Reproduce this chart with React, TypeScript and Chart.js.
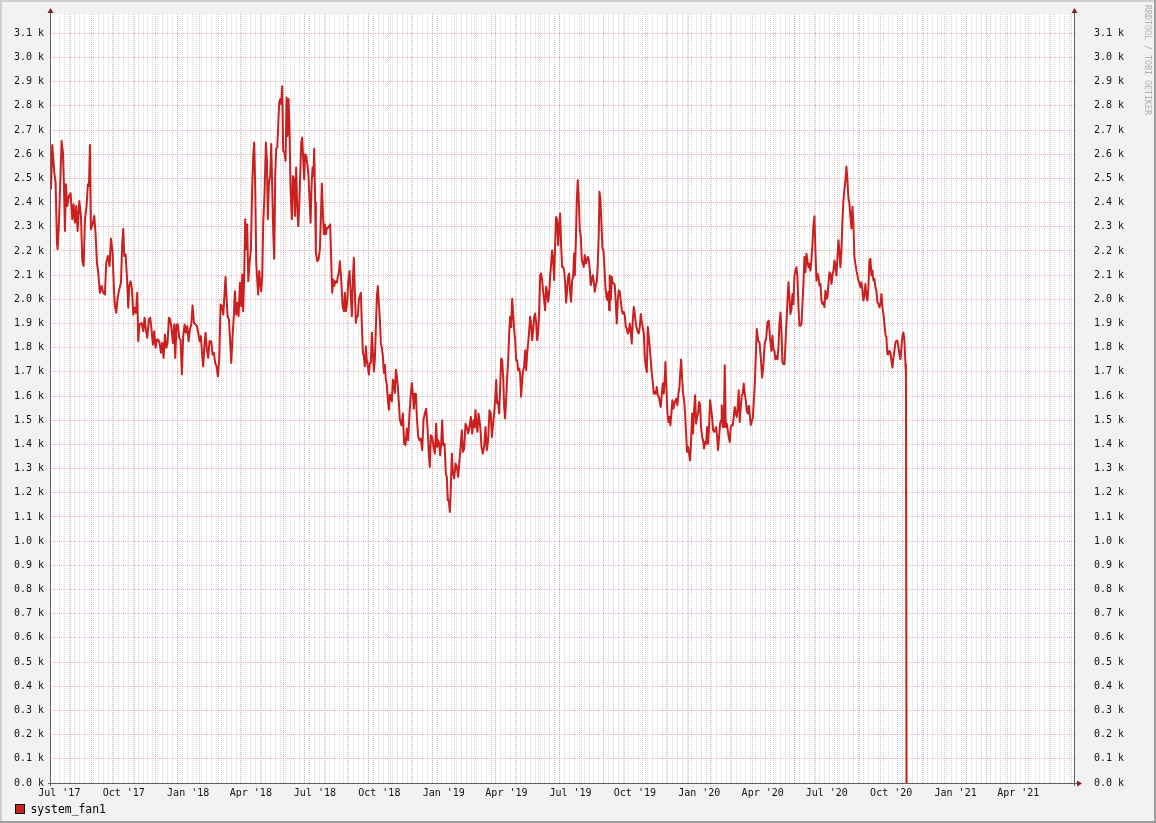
import React, { useEffect, useRef } from 'react';
import { Chart, registerables } from 'chart.js';

Chart.register(...registerables);

const SERIES_NAME = 'system_fan1';
const WATERMARK = 'RRDTOOL / TOBI OETIKER';

// Readings as [days since 2017-07-01 (UTC), value]
const readingsJul17toMar18: [number, number][] = [
  [3.6, 2455], [5.4, 2638], [8.3, 2524], [10.2, 2483], [12.1, 2234], [13.0, 2207], [14.9, 2317], [17.8, 2566], [18.7, 2655], [20.7, 2607],
  [22.1, 2469], [23.5, 2283], [24.9, 2476], [26.8, 2386], [29.2, 2428], [31.6, 2439], [34.0, 2331], [35.9, 2393], [37.8, 2317], [39.7, 2386],
  [41.6, 2283], [44.0, 2407], [46.4, 2345], [48.3, 2158], [50.2, 2138], [52.1, 2331], [54.4, 2386], [56.3, 2476], [57.8, 2469], [59.2, 2638],
  [60.6, 2290], [63.0, 2310], [65.4, 2345], [67.3, 2269], [69.2, 2151], [71.1, 2110], [73.5, 2027], [75.9, 2055], [78.2, 2027], [80.6, 2020],
  [82.5, 2151], [84.9, 2179], [87.3, 2138], [89.2, 2251], [91.6, 2193], [93.5, 2041], [94.9, 1972], [96.8, 1944], [98.7, 2006], [101.1, 2041],
  [103.5, 2069], [105.4, 2234], [106.8, 2292], [108.2, 2179], [110.1, 2186], [112.0, 2096], [113.9, 1965], [115.4, 2055], [117.3, 2075], [119.2, 2041],
  [121.1, 1937], [123.0, 1965], [124.9, 1944], [126.8, 2027], [128.2, 1827], [130.1, 1896], [133.0, 1903], [135.4, 1868], [137.2, 1924], [139.1, 1875],
  [141.1, 1841], [143.4, 1917], [145.3, 1924], [147.2, 1875], [149.1, 1813], [151.0, 1868], [152.9, 1800], [154.9, 1834], [156.7, 1834], [158.7, 1820],
  [160.6, 1779], [162.5, 1820], [164.4, 1758], [166.3, 1855], [168.2, 1800], [170.1, 1820], [172.0, 1924], [173.9, 1917], [175.8, 1875], [177.7, 1820],
  [179.6, 1896], [181.0, 1758], [182.9, 1896], [184.8, 1896], [186.7, 1841], [188.6, 1834], [190.5, 1689], [192.4, 1848], [194.4, 1896], [196.3, 1862],
  [198.2, 1889], [200.1, 1827], [202.0, 1875], [203.9, 1896], [205.8, 1975], [207.7, 1903], [210.1, 1896], [212.0, 1889], [213.9, 1862], [215.8, 1827],
  [217.7, 1848], [219.6, 1765], [221.0, 1723], [222.9, 1820], [224.3, 1862], [226.2, 1793], [228.1, 1758], [230.0, 1827], [232.4, 1827], [234.3, 1772],
  [236.2, 1779], [238.1, 1737], [240.0, 1723], [242.0, 1682], [243.9, 1758], [245.8, 1979], [247.7, 1972], [249.6, 1937], [251.5, 2027], [252.9, 2092],
];

const readingsMar18toNov18: [number, number][] = [
  [253.9, 2027], [255.8, 1930], [257.7, 1917], [259.6, 1820], [261.0, 1737], [262.9, 1848], [264.8, 1937], [266.2, 2034], [268.1, 1937], [270.0, 1986],
  [271.5, 1930], [273.4, 2069], [275.3, 1972], [276.7, 2103], [278.1, 1951], [279.6, 2110], [281.0, 2331], [282.4, 2207], [283.8, 2310], [285.3, 2075],
  [287.2, 2151], [289.1, 2207], [291.0, 2469], [292.4, 2593], [293.8, 2649], [295.3, 2455], [296.7, 2151], [298.1, 2082], [299.5, 2020], [301.0, 2117],
  [302.4, 2069], [303.8, 2034], [305.3, 2096], [306.7, 2317], [308.6, 2441], [310.5, 2649], [311.9, 2580], [313.3, 2331], [314.8, 2483], [316.7, 2510],
  [318.1, 2642], [319.5, 2469], [321.0, 2276], [322.4, 2168], [323.8, 2510], [325.2, 2624], [326.7, 2628], [328.1, 2718], [329.5, 2814], [331.0, 2828],
  [332.4, 2807], [333.8, 2881], [335.2, 2614], [337.1, 2607], [338.6, 2573], [340.0, 2835], [341.4, 2676], [342.9, 2828], [344.3, 2690], [345.7, 2455],
  [347.6, 2331], [349.0, 2510], [350.5, 2497], [351.9, 2345], [353.8, 2545], [355.2, 2386], [356.7, 2303], [358.1, 2386], [359.5, 2510], [361.0, 2649],
  [362.4, 2669], [363.8, 2580], [365.2, 2497], [366.6, 2600], [368.1, 2593], [370.0, 2552], [371.4, 2510], [372.8, 2414], [374.3, 2317], [375.7, 2469],
  [377.1, 2545], [378.5, 2510], [379.5, 2624], [380.9, 2400], [381.9, 2193], [383.8, 2158], [385.7, 2165], [387.6, 2207], [389.0, 2331], [390.4, 2479],
  [391.9, 2359], [393.3, 2269], [394.7, 2310], [396.2, 2269], [397.6, 2296], [399.5, 2296], [400.9, 2303], [402.3, 2310], [403.8, 2158], [405.2, 2027],
  [406.6, 2082], [408.1, 2055], [410.0, 2075], [411.9, 2069], [413.3, 2096], [414.7, 2110], [416.1, 2158], [418.1, 2082], [420.0, 1972], [421.9, 1951],
  [423.3, 2027], [424.7, 1951], [426.6, 1986], [428.0, 2069], [429.9, 2117], [431.8, 2013], [433.3, 1930], [434.7, 2082], [436.1, 2172], [437.6, 2027],
  [439.0, 1903], [440.4, 1930], [441.8, 1930], [443.3, 1999], [444.7, 2013], [446.1, 2027], [447.6, 1889], [449.0, 1779], [450.4, 1765], [451.8, 1723],
  [453.3, 1806], [454.7, 1744], [456.1, 1723], [457.5, 1689], [459.0, 1737], [460.4, 1737], [461.8, 1862], [463.3, 1779], [464.7, 1702], [466.1, 1751],
  [467.5, 1875], [469.0, 2013], [470.4, 2055], [471.8, 1986], [473.3, 1917], [474.7, 1820], [476.1, 1799], [477.5, 1765], [479.0, 1696], [480.4, 1730],
  [481.8, 1668], [483.2, 1647], [484.7, 1585], [486.1, 1544], [487.5, 1606], [489.0, 1599], [490.4, 1578], [491.8, 1668], [493.2, 1654], [494.7, 1613],
  [496.1, 1709], [497.5, 1682], [498.9, 1640], [500.4, 1571], [501.8, 1502],
];

const readingsNov18toJul19: [number, number][] = [
  [504.2, 1479], [506.1, 1528], [508.0, 1403], [509.9, 1397], [511.8, 1466], [513.7, 1417], [515.6, 1528], [517.5, 1610], [518.9, 1654], [520.4, 1610],
  [521.8, 1548], [523.2, 1610], [524.7, 1610], [526.1, 1514], [528.0, 1431], [529.9, 1417], [531.8, 1424], [533.7, 1376], [535.6, 1500], [537.5, 1528],
  [539.4, 1548], [541.3, 1472], [543.2, 1362], [544.6, 1307], [546.1, 1438], [548.0, 1431], [549.9, 1390], [551.8, 1362], [553.7, 1486], [555.1, 1390],
  [556.5, 1417], [558.0, 1403], [559.4, 1355], [560.8, 1403], [562.3, 1500], [563.7, 1397], [565.6, 1403], [567.5, 1279], [568.9, 1266], [570.3, 1169],
  [571.8, 1169], [573.2, 1121], [574.6, 1224], [576.1, 1362], [577.5, 1286], [579.4, 1259], [581.3, 1321], [583.2, 1307], [585.1, 1266], [587.0, 1334],
  [588.9, 1403], [590.3, 1459], [591.8, 1369], [593.7, 1383], [595.6, 1486], [597.5, 1472], [599.4, 1445], [601.3, 1472], [603.2, 1514], [605.1, 1445],
  [607.0, 1500], [608.4, 1472], [609.8, 1541], [611.3, 1472], [612.7, 1452], [614.1, 1528], [615.6, 1500], [617.0, 1459], [618.4, 1390], [620.3, 1362],
  [622.2, 1390], [624.1, 1472], [626.0, 1376], [627.9, 1417], [629.8, 1541], [631.7, 1528], [633.2, 1431], [634.6, 1472], [636.5, 1528], [637.9, 1583],
  [639.4, 1666], [640.8, 1569], [642.2, 1576], [643.6, 1528], [645.1, 1638], [646.5, 1755], [647.9, 1748], [649.4, 1679], [650.8, 1555], [652.2, 1507],
  [653.6, 1583], [655.1, 1679], [656.5, 1748], [657.9, 1859], [659.3, 1928], [660.8, 1886], [662.2, 2003], [663.6, 1941], [665.1, 1872], [666.5, 1831],
  [667.9, 1748], [669.3, 1748], [670.8, 1707], [672.2, 1714], [673.6, 1693], [675.0, 1597], [676.5, 1666], [677.9, 1707], [679.3, 1721], [680.8, 1790],
  [682.2, 1707], [683.6, 1776], [685.0, 1817], [686.5, 1872], [687.9, 1928], [689.3, 1900], [690.7, 1831], [692.2, 1872], [693.6, 1928], [695.0, 1941],
  [696.5, 1900], [697.9, 1831], [699.3, 1859], [700.7, 1941], [702.2, 2100], [703.6, 2107], [705.0, 2079], [706.5, 2031], [707.9, 1997], [709.3, 1955],
  [710.7, 2052], [712.2, 2031], [713.6, 1990], [715.0, 2024], [716.4, 2093], [717.9, 2148], [719.3, 2203], [720.7, 2162], [722.2, 2079], [723.6, 2231],
  [725.0, 2341], [726.4, 2328], [727.9, 2224], [729.3, 2300], [730.7, 2355], [732.2, 2217], [733.6, 2134], [735.0, 2134], [736.4, 2121], [737.9, 2066],
  [739.3, 1986], [740.7, 2038], [742.1, 2093], [743.6, 2107], [745.0, 2031], [746.4, 1990], [747.9, 2079], [749.3, 2093], [750.7, 2190],
];

const readingsJul19toMar20: [number, number][] = [
  [751.7, 2100], [753.1, 2231], [754.5, 2410], [755.9, 2493], [757.4, 2410], [758.8, 2286], [760.2, 2259], [761.7, 2162], [763.1, 2148], [764.5, 2134],
  [765.9, 2183], [767.4, 2148], [768.8, 2162], [770.2, 2176], [771.7, 2162], [773.1, 2121], [774.5, 2059], [775.9, 2079], [777.4, 2100], [778.8, 2072],
  [780.2, 2031], [781.6, 2059], [783.1, 2072], [784.5, 2148], [785.9, 2272], [786.9, 2445], [788.3, 2410], [789.7, 2314], [791.2, 2210], [792.6, 2203],
  [794.0, 2134], [795.4, 2052], [796.9, 2010], [798.3, 1997], [799.7, 2031], [800.7, 1955], [801.6, 2100], [803.1, 1997], [804.5, 2093], [805.9, 2066],
  [807.3, 2066], [808.8, 2059], [810.2, 1983], [811.6, 1900], [813.1, 1997], [814.5, 2038], [815.9, 2031], [817.3, 1997], [818.8, 1955], [820.2, 1941],
  [821.6, 1948], [823.0, 1934], [824.5, 1886], [825.9, 1879], [827.3, 1859], [828.8, 1866], [830.2, 1900], [831.6, 1872], [833.0, 1817], [834.5, 1914],
  [835.9, 1969], [837.3, 1941], [838.8, 1900], [840.2, 1879], [841.6, 1866], [843.0, 1859], [844.5, 1886], [845.9, 1939], [847.3, 1907], [848.7, 1886],
  [850.2, 1859], [851.6, 1762], [853.0, 1721], [854.5, 1700], [855.9, 1886], [857.3, 1845], [858.7, 1803], [860.2, 1748], [861.6, 1693], [863.0, 1659],
  [864.5, 1610], [865.9, 1617], [867.3, 1610], [868.7, 1638], [870.2, 1603], [871.6, 1597], [873.0, 1576], [874.4, 1555], [875.9, 1610], [877.3, 1652],
  [878.7, 1610], [880.2, 1679], [881.1, 1741], [882.5, 1638], [884.0, 1528], [885.4, 1493], [886.8, 1514], [888.2, 1479], [889.7, 1534], [891.1, 1583],
  [892.5, 1548], [894.0, 1569], [895.4, 1583], [896.8, 1590], [898.2, 1562], [899.7, 1610], [901.1, 1638], [902.5, 1707], [903.5, 1751], [904.9, 1679],
  [906.3, 1610], [907.8, 1583], [909.2, 1528], [910.6, 1445], [912.0, 1369], [913.5, 1390], [914.9, 1362], [916.3, 1334], [917.8, 1417], [919.2, 1528],
  [920.6, 1445], [922.0, 1541], [923.5, 1603], [924.9, 1486], [926.3, 1514], [927.7, 1528], [929.2, 1576], [930.6, 1562], [932.0, 1472], [933.5, 1431],
  [934.9, 1417], [936.3, 1383], [937.7, 1410], [939.2, 1403], [940.6, 1472], [942.0, 1403], [943.4, 1472], [944.9, 1583], [946.3, 1548], [947.7, 1514],
  [949.2, 1459], [950.6, 1452], [952.0, 1459], [953.4, 1472], [954.9, 1431], [956.3, 1376], [957.7, 1431], [959.2, 1486], [960.6, 1500], [961.5, 1562],
  [963.0, 1472], [964.4, 1472], [965.8, 1728], [967.2, 1472], [968.7, 1486], [970.1, 1459], [971.5, 1431], [973.0, 1410], [974.4, 1472], [975.8, 1479],
  [977.2, 1479], [978.7, 1514], [980.1, 1555], [981.5, 1528], [983.0, 1514], [984.4, 1555], [985.8, 1624], [987.2, 1493], [988.7, 1555], [990.1, 1603],
  [991.5, 1610], [992.9, 1652], [994.4, 1610], [995.8, 1583], [997.2, 1541], [998.7, 1528],
];

const readingsMar20toNov20: [number, number][] = [
  [1000.2, 1560], [1003.0, 1480], [1005.9, 1510], [1008.7, 1650], [1011.6, 1877], [1013.5, 1829], [1015.4, 1822], [1017.3, 1759], [1019.2, 1676], [1021.1, 1732],
  [1023.0, 1822], [1024.9, 1835], [1026.8, 1905], [1028.7, 1912], [1030.6, 1835], [1032.5, 1787], [1034.0, 1849], [1035.4, 1794], [1036.8, 1787], [1038.2, 1752],
  [1039.7, 1766], [1041.1, 1752], [1042.5, 1801], [1043.9, 1898], [1045.4, 1946], [1046.8, 1870], [1048.2, 1739], [1049.7, 1732], [1051.1, 1732], [1052.5, 1815],
  [1053.9, 1898], [1055.4, 1995], [1056.8, 2071], [1058.2, 2009], [1059.6, 1939], [1061.1, 1960], [1062.5, 2022], [1063.9, 1981], [1065.4, 2099], [1066.8, 2119],
  [1068.2, 2133], [1069.6, 2092], [1071.1, 1967], [1072.5, 1891], [1073.9, 1891], [1075.4, 1898], [1076.8, 1981], [1078.2, 2064], [1079.6, 2175], [1081.1, 2112],
  [1082.5, 2189], [1083.9, 2161], [1085.3, 2133], [1086.8, 2147], [1088.2, 2119], [1089.6, 2161], [1091.1, 2230], [1092.5, 2306], [1093.9, 2344], [1095.3, 2202],
  [1096.8, 2078], [1098.2, 2106], [1099.6, 2092], [1101.1, 2057], [1102.5, 2064], [1103.9, 1995], [1105.3, 1981], [1106.8, 1988], [1108.2, 1967], [1109.6, 2036],
  [1111.0, 2002], [1112.5, 2009], [1113.9, 2064], [1115.3, 2112], [1116.8, 2106], [1118.2, 2064], [1119.6, 2099], [1121.0, 2119], [1122.5, 2161], [1123.9, 2133],
  [1125.3, 2099], [1126.8, 2175], [1128.2, 2244], [1129.6, 2202], [1131.0, 2133], [1132.5, 2202], [1133.9, 2327], [1135.3, 2410], [1136.7, 2452], [1138.2, 2493],
  [1139.6, 2549], [1141.0, 2493], [1142.5, 2417], [1143.9, 2396], [1145.3, 2341], [1146.7, 2293], [1148.2, 2383], [1149.6, 2313], [1151.0, 2175], [1152.4, 2147],
  [1153.9, 2119], [1155.3, 2099], [1156.7, 2078], [1158.2, 2064], [1159.6, 2050], [1161.0, 2071], [1162.4, 2036], [1163.9, 1995], [1165.3, 2022], [1166.7, 2064],
  [1168.2, 2009], [1169.6, 1995], [1171.0, 2050], [1172.4, 2161], [1173.9, 2168], [1175.3, 2099], [1176.7, 2119], [1178.2, 2078], [1179.6, 2085], [1181.0, 2050],
  [1182.4, 2036], [1183.9, 1988], [1185.3, 1981], [1186.7, 1967], [1188.1, 1981], [1189.6, 2022], [1191.0, 1967], [1192.4, 1939], [1193.9, 1898], [1195.3, 1856],
  [1196.7, 1842], [1198.1, 1773], [1199.6, 1773], [1201.0, 1787], [1202.4, 1780], [1203.9, 1745], [1205.3, 1718], [1206.7, 1759], [1208.1, 1787], [1209.6, 1822],
  [1211.0, 1829], [1212.4, 1829], [1213.9, 1801], [1215.3, 1773], [1216.7, 1752], [1218.1, 1801], [1219.6, 1849], [1221.0, 1863], [1222.4, 1829], [1223.9, 1732],
  [1224.6, 1690], [1225.4, 0],
];

const quarterTickLabels = [
  "Jul '17", "Oct '17", "Jan '18", "Apr '18", "Jul '18", "Oct '18", "Jan '19", "Apr '19",
  "Jul '19", "Oct '19", "Jan '20", "Apr '20", "Jul '20", "Oct '20", "Jan '21", "Apr '21",
];

const yTickStep = 100;
const yAxisMax = 3180;
const xStartDay = 3.6;
const xEndDay = 1464.6;

const ORIGIN_MS = Date.UTC(2017, 6, 1);
const DAY_MS = 86400000;
const dayOf = (y: number, m: number, d: number) => (Date.UTC(y, m, d) - ORIGIN_MS) / DAY_MS;

function buildXTicks() {
  const ticks: any[] = [];
  // weekly minor grid (Mondays)
  const firstMonday = dayOf(2017, 6, 3);
  for (let d = firstMonday; d <= xEndDay; d += 7) {
    if (d >= xStartDay) ticks.push({ value: d, kind: 'minor' });
  }
  // monthly major grid
  for (let m = 0; ; m++) {
    const d = dayOf(2017, 6 + m, 1);
    if (d > xEndDay) break;
    if (d >= xStartDay) ticks.push({ value: d, kind: 'major' });
  }
  // quarterly labels centred in their month
  quarterTickLabels.forEach((text, i) => {
    const start = dayOf(2017, 6 + 3 * i, 1);
    const end = dayOf(2017, 7 + 3 * i, 1);
    const d = (start + end) / 2;
    if (d >= xStartDay && d <= xEndDay) ticks.push({ value: d, kind: 'label', text });
  });
  ticks.sort((a, b) => a.value - b.value);
  return ticks;
}

const LINE_COLOR = '#cc2020';
const MONO = "'DejaVu Sans Mono', monospace";
const MAJOR_GRID = 'rgba(220,90,90,0.42)';
const MINOR_GRID = 'rgba(150,150,150,0.38)';

const rrdPlugin = {
  id: 'rrdLook',
  beforeDraw(chart: any) {
    const { ctx, chartArea: a, width, height } = chart;
    ctx.save();
    ctx.fillStyle = '#f2f2f2';
    ctx.fillRect(0, 0, width, height);
    ctx.fillStyle = '#cfcfcf';
    ctx.fillRect(0, 0, width, 2);
    ctx.fillRect(0, 0, 2, height);
    ctx.fillStyle = '#9e9e9e';
    ctx.fillRect(0, height - 2, width, 2);
    ctx.fillRect(width - 2, 0, 2, height);
    ctx.fillStyle = '#ffffff';
    ctx.fillRect(a.left, a.top, a.right - a.left, a.bottom - a.top);
    ctx.restore();
  },
  afterDraw(chart: any) {
    const { ctx, chartArea: a } = chart;
    ctx.save();
    // axes
    ctx.strokeStyle = '#606060';
    ctx.lineWidth = 1;
    ctx.beginPath();
    ctx.moveTo(a.left - 0.5, a.bottom + 3);
    ctx.lineTo(a.left - 0.5, a.top - 2);
    ctx.moveTo(a.right + 0.5, a.bottom + 3);
    ctx.lineTo(a.right + 0.5, a.top - 2);
    ctx.moveTo(a.left - 3, a.bottom + 0.5);
    ctx.lineTo(a.right + 4, a.bottom + 0.5);
    ctx.stroke();
    // arrows
    ctx.fillStyle = '#7f1f1f';
    const upArrow = (x: number) => {
      ctx.beginPath();
      ctx.moveTo(x, a.top - 6);
      ctx.lineTo(x - 3, a.top - 1);
      ctx.lineTo(x + 3, a.top - 1);
      ctx.closePath();
      ctx.fill();
    };
    upArrow(a.left - 0.5);
    upArrow(a.right + 0.5);
    ctx.beginPath();
    ctx.moveTo(a.right + 8, a.bottom + 0.5);
    ctx.lineTo(a.right + 3, a.bottom - 2.5);
    ctx.lineTo(a.right + 3, a.bottom + 3.5);
    ctx.closePath();
    ctx.fill();
    // legend
    ctx.fillStyle = LINE_COLOR;
    ctx.fillRect(15.5, 804.5, 9, 9);
    ctx.strokeStyle = '#000';
    ctx.strokeRect(15.5, 804.5, 9, 9);
    ctx.fillStyle = '#000';
    ctx.font = `11.4px ${MONO}`;
    ctx.textBaseline = 'alphabetic';
    ctx.textAlign = 'left';
    ctx.fillText(chart.data.datasets[0].label, 30.5, 813);
    // watermark
    ctx.translate(1147, 5);
    ctx.rotate(Math.PI / 2);
    ctx.font = `8.3px ${MONO}`;
    ctx.fillStyle = '#b0b0b0';
    ctx.textBaseline = 'middle';
    ctx.fillText(WATERMARK, 0, 0);
    ctx.restore();
  },
};

export default function App() {
  const canvasRef = useRef<HTMLCanvasElement | null>(null);

  useEffect(() => {
    if (!canvasRef.current) return;
    const points = [
      ...readingsJul17toMar18,
      ...readingsMar18toNov18,
      ...readingsNov18toJul19,
      ...readingsJul19toMar20,
      ...readingsMar20toNov20,
    ].map(([x, y]) => ({ x, y }));

    const tickFont = { family: MONO, size: 10 };
    const yTickCb = (v: any) => (Number(v) / 1000).toFixed(1) + ' k';
    const noPadV = (scale: any, w: number) => {
      scale.width = w;
      scale.paddingTop = 0;
      scale.paddingBottom = 0;
    };

    const chart = new Chart(canvasRef.current, {
      type: 'line',
      data: {
        datasets: [
          {
            label: SERIES_NAME,
            data: points,
            borderColor: LINE_COLOR,
            backgroundColor: LINE_COLOR,
            borderWidth: 2,
            pointRadius: 0,
            tension: 0,
            borderJoinStyle: 'round',
            fill: false,
          },
        ],
      },
      options: {
        animation: false,
        responsive: false,
        devicePixelRatio: 1,
        events: [],
        parsing: false,
        layout: { padding: { top: 14, left: 0, right: 0, bottom: 0 } },
        plugins: { legend: { display: false }, tooltip: { enabled: false } },
        scales: {
          x: {
            type: 'linear',
            min: xStartDay,
            max: xEndDay,
            z: 1,
            afterBuildTicks: (scale: any) => {
              scale.ticks = buildXTicks();
            },
            afterFit: (scale: any) => {
              scale.height = 40;
              scale.paddingLeft = 0;
              scale.paddingRight = 0;
            },
            grid: {
              drawTicks: false,
              color: (c: any) => (c.tick && c.tick.kind === 'major' ? MAJOR_GRID : MINOR_GRID),
              lineWidth: (c: any) => (c.tick && c.tick.kind === 'label' ? 0 : 1),
            },
            border: { display: false, dash: [1, 1] },
            ticks: {
              autoSkip: false,
              maxRotation: 0,
              minRotation: 0,
              padding: 4,
              font: tickFont,
              color: '#111',
              callback: (_v: any, i: number, ticks: any[]) => (ticks[i] && ticks[i].text) || '',
            },
          },
          y: {
            type: 'linear',
            position: 'left',
            min: 0,
            max: yAxisMax,
            z: 1,
            afterFit: (scale: any) => noPadV(scale, 51),
            grid: { drawTicks: false, color: MAJOR_GRID, lineWidth: 1 },
            border: { display: false, dash: [1, 1] },
            ticks: {
              stepSize: yTickStep,
              includeBounds: false,
              autoSkip: false,
              padding: 7,
              font: tickFont,
              color: '#111',
              callback: yTickCb,
            },
          },
          y2: {
            type: 'linear',
            position: 'right',
            min: 0,
            max: yAxisMax,
            afterFit: (scale: any) => noPadV(scale, 82),
            grid: { display: false, drawTicks: false },
            border: { display: false },
            ticks: {
              stepSize: yTickStep,
              includeBounds: false,
              autoSkip: false,
              padding: 20,
              font: tickFont,
              color: '#111',
              callback: yTickCb,
            },
          },
        },
      } as any,
      plugins: [rrdPlugin],
    });
    return () => chart.destroy();
  }, []);

  return (
    <canvas
      ref={canvasRef}
      width={1156}
      height={823}
      style={{ position: 'absolute', left: 0, top: 0, display: 'block', width: 1156, height: 823 }}
    />
  );
}
